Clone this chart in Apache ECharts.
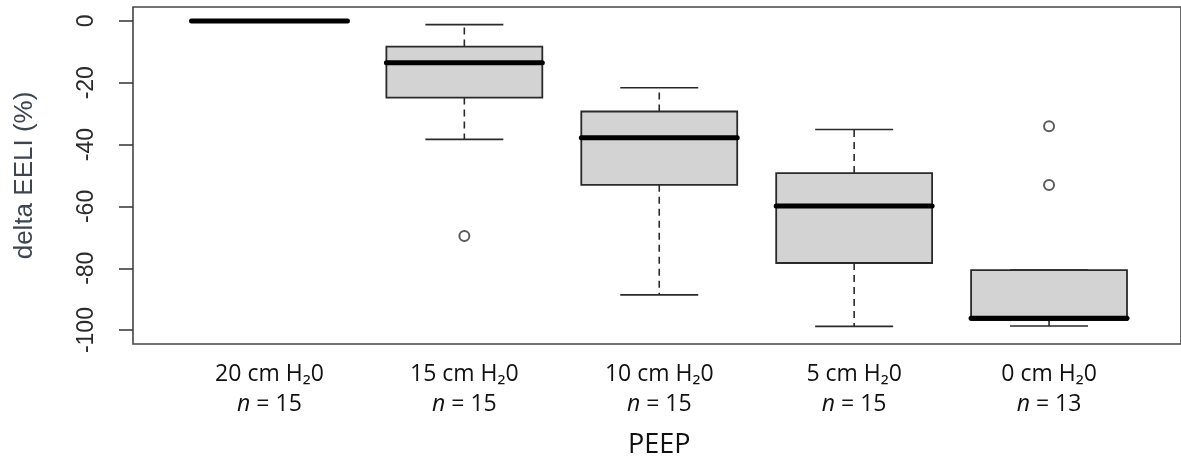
<!DOCTYPE html>
<html>
<head>
<meta charset="utf-8">
<script src="https://cdn.jsdelivr.net/npm/echarts@6/dist/echarts.min.js"></script>
<style>
  html, body { margin: 0; padding: 0; background: #fff; }
  #chart { width: 1181px; height: 468px; }
</style>
</head>
<body>
<div id="chart"></div>
<script>
// PEEP steps, n per group
var categories = ['20 cm H₂0', '15 cm H₂0', '10 cm H₂0', '5 cm H₂0', '0 cm H₂0'];
var counts = [15, 15, 15, 15, 13];

// box stats (delta EELI %): lower whisker, Q1, median, Q3, upper whisker
var whiskerLow = [0, -38.3, -88.6, -98.8, -98.7];
var q1 = [0, -24.8, -53.0, -78.3, -96.8];
var median = [0, -13.5, -37.8, -59.9, -96.2];
var q3 = [0, -8.3, -29.3, -49.2, -80.6];
var whiskerHigh = [0, -1.2, -21.6, -35.1, -80.6];

// outliers: [group index, value]
var outliers = [[1, -69.6], [4, -34.1], [4, -53.1]];

var yTicks = [0, -20, -40, -60, -80, -100];

var boxData = categories.map(function (c, i) {
    return [i, whiskerLow[i], q1[i], median[i], q3[i], whiskerHigh[i]];
});

var renderBox = function (params, api) {
    var i = api.value(0);
    var band = api.size([1, 0])[0];
    var half = band * 0.4, capHalf = band * 0.2;
    var pLo = api.coord([i, api.value(1)]);
    var pQ1 = api.coord([i, api.value(2)]);
    var pMed = api.coord([i, api.value(3)]);
    var pQ3 = api.coord([i, api.value(4)]);
    var pHi = api.coord([i, api.value(5)]);
    var cx = pMed[0];
    var solid = { stroke: '#2a2a2a', lineWidth: 1.6 };
    var dashed = { stroke: '#2a2a2a', lineWidth: 1.6, lineDash: [7, 5] };
    return {
        type: 'group',
        children: [
            { type: 'line', shape: { x1: cx, y1: pQ1[1], x2: cx, y2: pLo[1] }, style: dashed },
            { type: 'line', shape: { x1: cx, y1: pQ3[1], x2: cx, y2: pHi[1] }, style: dashed },
            { type: 'line', shape: { x1: cx - capHalf, y1: pLo[1], x2: cx + capHalf, y2: pLo[1] }, style: solid },
            { type: 'line', shape: { x1: cx - capHalf, y1: pHi[1], x2: cx + capHalf, y2: pHi[1] }, style: solid },
            {
                type: 'rect',
                shape: { x: cx - half, y: pQ3[1], width: half * 2, height: pQ1[1] - pQ3[1] },
                style: { fill: '#d3d3d3', stroke: '#2a2a2a', lineWidth: 1.8 }
            },
            {
                type: 'line',
                shape: { x1: cx - half, y1: pMed[1], x2: cx + half, y2: pMed[1] },
                style: { stroke: '#000', lineWidth: 5, lineCap: 'round' }
            }
        ]
    };
};

var chart = echarts.init(document.getElementById('chart'));
chart.setOption({
    animation: false,
    backgroundColor: '#fff',
    grid: [
        { left: 172, right: 34.5, top: 7, bottom: 124 },
        // frame like R's box(), right side cropped off like the source
        { left: 133, right: -10, top: 7, bottom: 124, show: true,
          borderColor: '#454545', borderWidth: 1.6, backgroundColor: 'transparent' }
    ],
    xAxis: [{
        type: 'category',
        gridIndex: 0,
        data: categories,
        name: 'PEEP',
        nameLocation: 'middle',
        nameGap: 88,
        nameTextStyle: { fontFamily: 'Open Sans', fontSize: 27, color: '#111' },
        axisLine: { show: false },
        axisTick: { alignWithLabel: true, length: 3, lineStyle: { color: '#444', width: 1.5 } },
        axisLabel: {
            margin: 15,
            interval: 0,
            formatter: function (value, idx) {
                return '{t|' + value + '}\n{i|n}{t| = ' + counts[idx] + '}';
            },
            rich: {
                t: { fontFamily: 'Open Sans', fontSize: 23, color: '#111', lineHeight: 30 },
                i: { fontFamily: 'Open Sans', fontSize: 23, color: '#111', lineHeight: 30, fontStyle: 'italic' }
            }
        }
    }, {
        type: 'value', gridIndex: 1, show: false
    }],
    yAxis: [{
        type: 'value',
        gridIndex: 0,
        min: -104.5,
        max: 4.5,
        offset: 39,
        name: 'delta EELI (%)',
        nameLocation: 'middle',
        nameGap: 95,
        nameTextStyle: { fontFamily: 'Liberation Sans', fontSize: 26, color: '#3d4550' },
        axisLine: { show: false },
        splitLine: { show: false },
        axisTick: { show: true, length: 14, customValues: yTicks, lineStyle: { color: '#333', width: 1.5 } },
        axisLabel: {
            rotate: 90,
            margin: 35,
            customValues: yTicks,
            fontFamily: 'Liberation Sans',
            fontSize: 23,
            color: '#2b2b2b'
        }
    }, {
        type: 'value', gridIndex: 1, show: false
    }],
    series: [{
        type: 'custom',
        xAxisIndex: 0,
        yAxisIndex: 0,
        renderItem: renderBox,
        encode: { x: 0, y: [1, 2, 3, 4, 5] },
        data: boxData,
        z: 2
    }, {
        type: 'scatter',
        xAxisIndex: 0,
        yAxisIndex: 0,
        symbol: 'emptyCircle',
        symbolSize: 10,
        itemStyle: { color: '#333', borderWidth: 1.6 },
        data: outliers,
        z: 3
    }]
});
</script>
</body>
</html>
